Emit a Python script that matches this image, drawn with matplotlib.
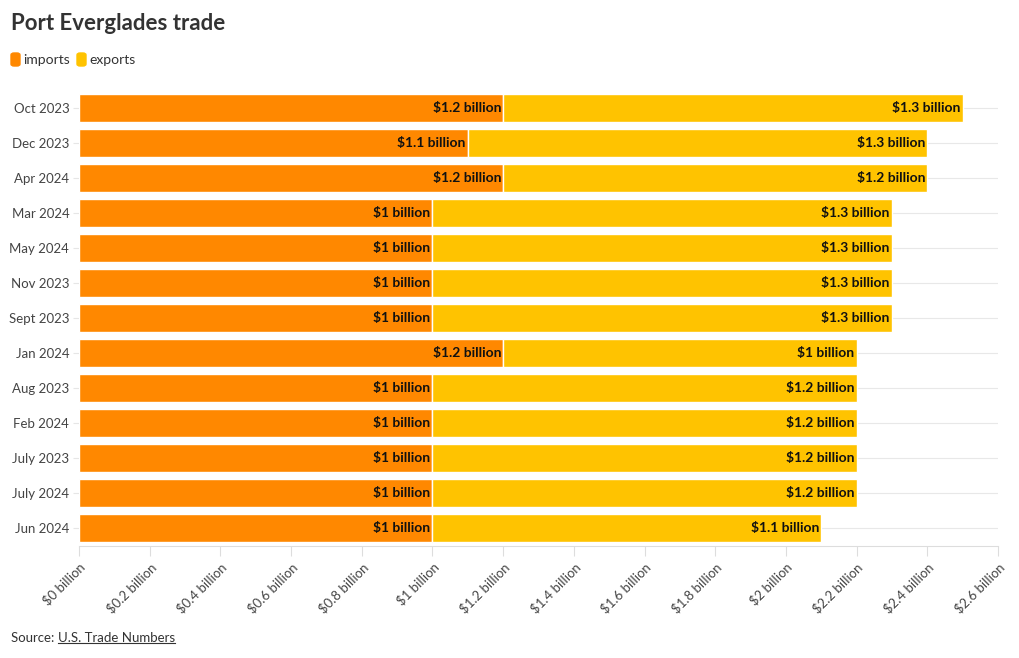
import numpy as np
import matplotlib
matplotlib.use("Agg")
import matplotlib.pyplot as plt
from matplotlib.patches import FancyBboxPatch

plt.rcParams['font.family'] = ['Lato', 'DejaVu Sans']

months = ['Oct 2023', 'Dec 2023', 'Apr 2024', 'Mar 2024', 'May 2024', 'Nov 2023',
          'Sept 2023', 'Jan 2024', 'Aug 2023', 'Feb 2024', 'July 2023', 'July 2024', 'Jun 2024']
imports = [1.2, 1.1, 1.2, 1.0, 1.0, 1.0, 1.0, 1.2, 1.0, 1.0, 1.0, 1.0, 1.0]
exports = [1.3, 1.3, 1.2, 1.3, 1.3, 1.3, 1.3, 1.0, 1.2, 1.2, 1.2, 1.2, 1.1]
xticks = [0, 0.2, 0.4, 0.6, 0.8, 1.0, 1.2, 1.4, 1.6, 1.8, 2.0, 2.2, 2.4, 2.6]

c_imp = '#ff8800'
c_exp = '#ffc300'
txt = '#333333'


def fmt(v):
    return '$%g billion' % round(v, 1)


fig = plt.figure(figsize=(10.2, 6.58), dpi=100)
ax = fig.add_axes([79 / 1020, 1 - 545.5 / 658, 919 / 1020, 455 / 658])

y = np.arange(len(months))
ax.barh(y, imports, height=0.82, color=c_imp, edgecolor='white', linewidth=1, zorder=2)
ax.barh(y, exports, left=imports, height=0.82, color=c_exp, edgecolor='white', linewidth=1, zorder=2)

for i in range(len(months)):
    ax.text(imports[i] - 0.006, y[i], fmt(imports[i]), ha='right', va='center',
            fontsize=10, fontweight='bold', color='#111111', zorder=3)
    ax.text(imports[i] + exports[i] - 0.006, y[i], fmt(exports[i]), ha='right', va='center',
            fontsize=10, fontweight='bold', color='#111111', zorder=3)
    ax.axhline(y[i], color='#e8e8e8', linewidth=0.8, zorder=1)

ax.set_xlim(0, 2.6)
ax.set_ylim(len(months) - 0.5, -0.5)
ax.set_yticks(y)
ax.set_yticklabels(months, fontsize=9.5, color='#444444')
ax.set_xticks(xticks)
ax.set_xticklabels([fmt(v) for v in xticks], rotation=45, ha='right', rotation_mode='anchor',
                   fontsize=9.5, color='#444444')
ax.tick_params(axis='y', length=4, color='#e6e6e6', pad=3)
ax.tick_params(axis='x', length=7, color='#dddddd', pad=4)

for s in ['top', 'right', 'left']:
    ax.spines[s].set_visible(False)
ax.spines['bottom'].set_color('#dddddd')
ax.spines['bottom'].set_linewidth(0.8)

fig.text(11 / 1020, 1 - 24 / 658, 'Port Everglades trade', fontsize=16, fontweight='bold',
         color=txt, va='center', ha='left')

# legend
for xl, col, lab in [(11, c_imp, 'imports'), (77, c_exp, 'exports')]:
    fig.patches.append(FancyBboxPatch((xl / 1020, 1 - 66 / 658), 9 / 1020, 13 / 658,
                                      boxstyle='round,pad=0,rounding_size=0.003',
                                      transform=fig.transFigure, color=col))
    fig.text((xl + 12) / 1020, 1 - 60 / 658, lab, fontsize=10, color=txt, va='center', ha='left')

t = fig.text(11 / 1020, 1 - 638 / 658, 'Source: ', fontsize=9.5, color=txt, va='center', ha='left')
fig.canvas.draw()
bb = t.get_window_extent()
t2 = fig.text(bb.x1 / 1020, 1 - 638 / 658, 'U.S. Trade Numbers', fontsize=9.5, color=txt,
              va='center', ha='left')
fig.canvas.draw()
bb2 = t2.get_window_extent()
fig.add_artist(plt.Line2D([bb2.x0 / 1020, bb2.x1 / 1020], [(bb2.y0 + 1) / 658] * 2,
                          color=txt, linewidth=0.8, transform=fig.transFigure))

fig.savefig('out.png', dpi=100)
